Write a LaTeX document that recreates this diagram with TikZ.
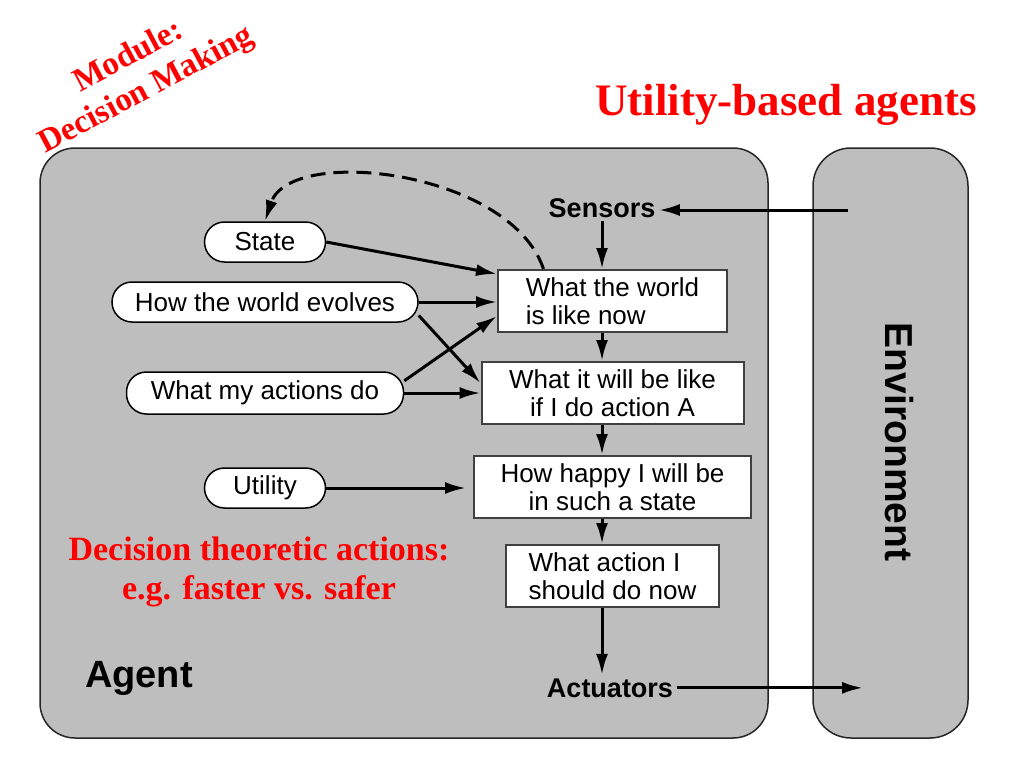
\documentclass[tikz,border=0pt]{standalone}
\usepackage{fontspec}
\setmainfont{Liberation Serif}
\setsansfont{Liberation Sans}
\usepackage{tikz}
\usetikzlibrary{shapes.geometric, arrows.meta}
\definecolor{panelgray}{RGB}{190,190,190}
\definecolor{notered}{RGB}{255,0,0}
\tikzstyle{panel} = [rectangle, rounded corners=35pt, draw=black!85, line width=1.5pt,
fill=panelgray]
\tikzstyle{pill} = [rectangle, rounded corners=20pt, minimum height=40pt, draw=black,
line width=1.5pt, fill=white, font=\sffamily\fontsize{26}{28}\selectfont]
\tikzstyle{infobox} = [rectangle, minimum height=62pt, draw=black!75, line width=2pt,
fill=white, inner sep=4pt, font=\sffamily\fontsize{26}{28}\selectfont]
\tikzstyle{port} = [font=\sffamily\bfseries\fontsize{27}{30}\selectfont]
\tikzstyle{redtext} = [text=notered, align=center,
font=\bfseries\fontsize{33}{38}\selectfont]
\tikzstyle{arrow} = [line width=3pt, -{Latex[length=21pt, width=12pt]}]
\tikzstyle{dasharrow} = [arrow, dash pattern=on 15pt off 8pt]

\begin{document}
\begin{tikzpicture}[x=1pt, y=-1pt, node distance=92pt]
\useasboundingbox (0,0) rectangle (1024,768);

\node(agent)[panel, minimum width=728pt, minimum height=590pt] at (404,443){};
\node(env)[panel, rounded corners=38pt, minimum width=155pt, minimum height=590pt]
at (890.5,443){};
\node(envlabel)[port, font=\sffamily\bfseries\fontsize{39}{40}\selectfont, rotate=-90]
at (899,442){Environment};

\node(sensors)[port, anchor=base] at (602,217){Sensors};
\node(box1)[infobox, minimum width=229pt, align=left] at (612.5,301){What the world\\is like now};
\node(box2)[infobox, minimum width=262pt, align=center, below of=box1]{What it will be like\\if I do action A};
\node(box3)[infobox, minimum width=277pt, align=center, below of=box2, node distance=94pt]{How happy I will be\\in such a state};
\node(box4)[infobox, minimum width=213pt, align=left, below of=box3, node distance=89pt]{What action I\\should do now};
\node(actuators)[port, anchor=base] at (610,697){Actuators};

\node(state)[pill, minimum width=121pt] at (265,242){State};
\node(evolves)[pill, minimum width=306pt, below of=state, node distance=60pt]{How the world evolves};
\node(actions)[pill, minimum width=277pt, minimum height=42pt, below of=evolves, node distance=91pt]{What my actions do};
\node(utility)[pill, minimum width=121pt, below of=actions, node distance=95pt]{Utility};

\node(title)[redtext, font=\bfseries\fontsize{45}{50}\selectfont, anchor=base] at (786,115){Utility-based agents};
\node(module)[redtext, rotate=28] at (138,74){Module:\\Decision Making};
\node(theory)[redtext, font=\bfseries\fontsize{34}{39}\selectfont] at (259,572){Decision theoretic actions:\\e.g. faster vs. safer};
\node(agentlabel)[port, font=\sffamily\bfseries\fontsize{38}{40}\selectfont, anchor=base west, inner sep=0pt] at (85,687){Agent};

\coordinate(envin) at (848,210);
\coordinate(envout) at (863,688);

\draw[arrow](envin) -- (sensors.east |- envin);
\draw[arrow](sensors) -- (sensors |- box1.north);
\draw[arrow](box1.south -| sensors) -- (sensors |- box2.north);
\draw[arrow](box2.south -| sensors) -- (sensors |- box3.north);
\draw[arrow](box3.south -| sensors) -- (sensors |- box4.north);
\draw[arrow](box4.south -| sensors) -- (sensors |- actuators.north);
\draw[arrow](actuators.east) -- (actuators.east -| envout);

\draw[arrow](state.east) -- ([yshift=-5pt]box1.north west);
\draw[arrow](evolves.east) -- (box1.west |- evolves.east);
\draw[arrow](evolves.-5) -- ([yshift=10pt]box2.west);
\draw[arrow](actions.5) -- ([yshift=-15pt]box1.west);
\draw[arrow](actions.east) -- (box2.west |- actions.east);
\draw[arrow, shorten >=7pt](utility.east) -- (box3.west |- utility.east);
\draw[dasharrow]([xshift=-69pt]box1.north) .. controls (510,170) and (290,145) .. (state.north);

\end{tikzpicture}
\end{document}
